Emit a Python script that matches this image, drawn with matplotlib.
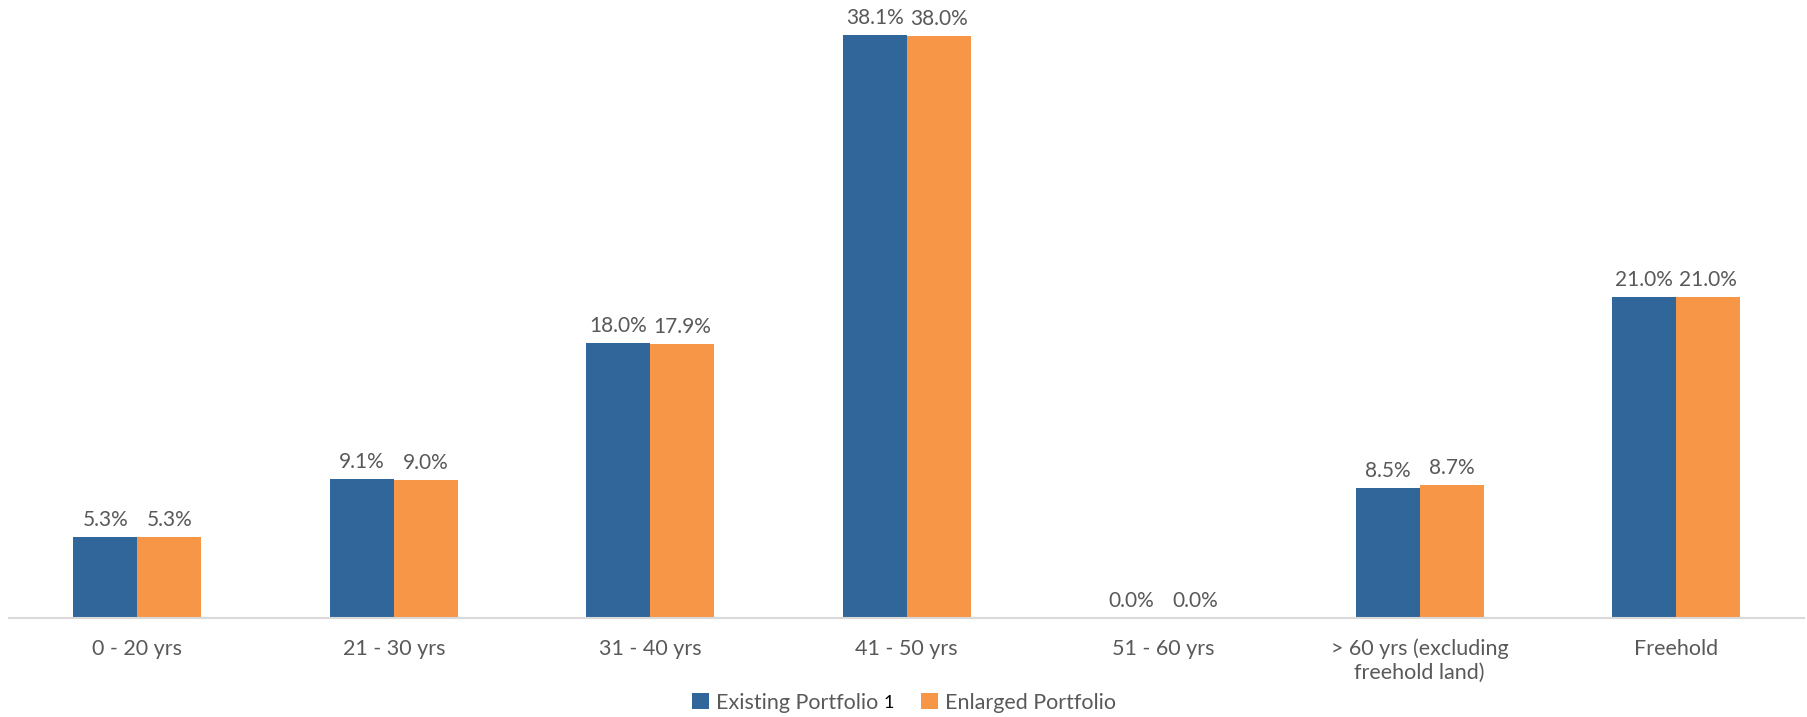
import matplotlib.pyplot as plt
import numpy as np

categories = ['0 - 20 yrs', '21 - 30 yrs', '31 - 40 yrs', '41 - 50 yrs',
              '51 - 60 yrs', '> 60 yrs (excluding\nfreehold land)', 'Freehold']
existing = [5.3, 9.1, 18.0, 38.1, 0.0, 8.5, 21.0]
enlarged = [5.3, 9.0, 17.9, 38.0, 0.0, 8.7, 21.0]

plt.rcParams['font.family'] = ['Lato', 'DejaVu Sans']
grey = '#595959'
blue = '#31669A'
orange = '#F79646'

fig = plt.figure(figsize=(18.08, 7.17), dpi=100)
ax = fig.add_axes([0.005, 0.138, 0.993, 0.854])

x = np.arange(len(categories))
w = 0.25
b1 = ax.bar(x - w / 2, existing, w, color=blue, label='Existing Portfolio')
b2 = ax.bar(x + w / 2, enlarged, w, color=orange, label='Enlarged Portfolio')

# value labels above bars
for bars, vals in ((b1, existing), (b2, enlarged)):
    for bar, v in zip(bars, vals):
        ax.annotate(f'{v:.1f}%', (bar.get_x() + bar.get_width() / 2, v),
                    xytext=(0, 5), textcoords='offset points',
                    ha='center', va='bottom', fontsize=15, color=grey)

ax.set_xlim(-0.5, len(categories) - 0.5)
ax.set_ylim(0, 40)
ax.set_xticks(x)
ax.set_xticklabels(categories, fontsize=15.5, color=grey, linespacing=1.2)
ax.tick_params(axis='x', length=0, pad=15)
ax.set_yticks([])
for s in ('top', 'right', 'left'):
    ax.spines[s].set_visible(False)
ax.spines['bottom'].set_color('#D9D9D9')
ax.spines['bottom'].set_linewidth(1.5)

leg = fig.legend(loc='center', bbox_to_anchor=(0.5, 0.02), ncol=2, frameon=False,
                 fontsize=15.5, handlelength=0.8, handleheight=0.8,
                 handletextpad=0.3, columnspacing=2.0)
for t in leg.get_texts():
    t.set_color(grey)

# superscript-like "1" after the first legend entry
fig.canvas.draw()
bb = leg.get_texts()[0].get_window_extent()
fx = (bb.x1 + 5) / fig.bbox.width
fy = (bb.y0 + bb.y1) / 2 / fig.bbox.height
fig.text(fx, fy, '1', fontsize=13, color='black', ha='left', va='center')

plt.savefig('out.png', dpi=100)
plt.close()
